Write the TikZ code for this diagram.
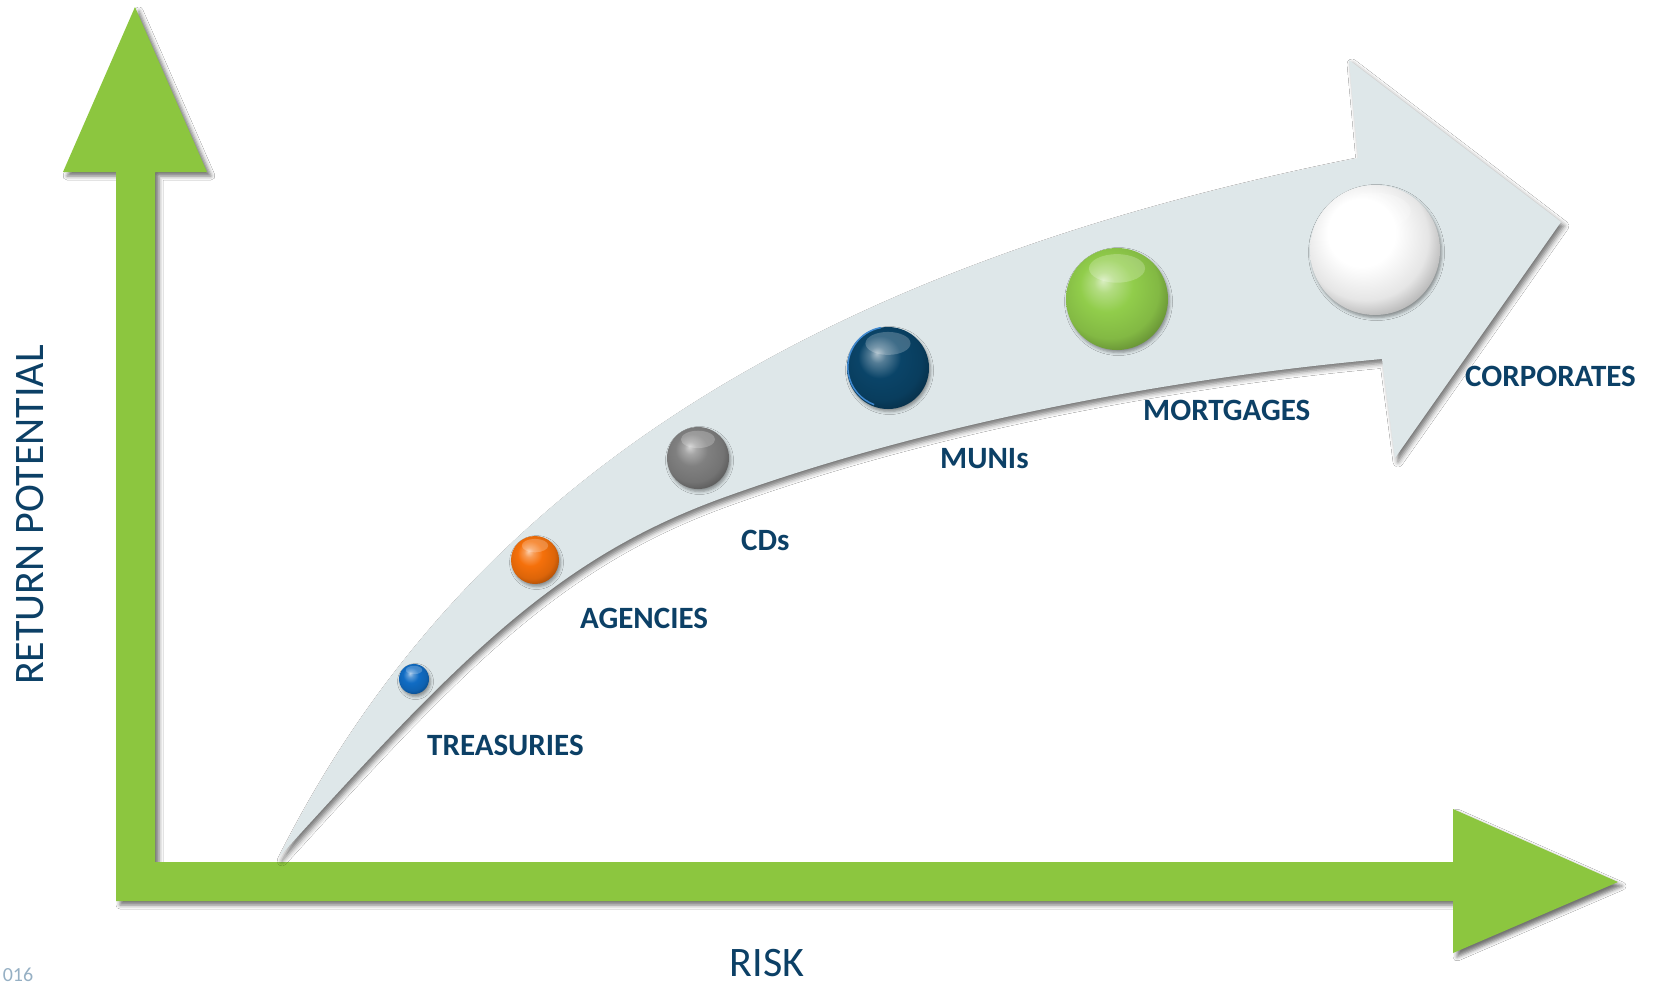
\documentclass[tikz,border=0pt]{standalone}
\usepackage{fontspec}
\setmainfont{Carlito}
\usetikzlibrary{shadows.blur,calc}

\definecolor{axisgreen}{RGB}{140,198,63}
\definecolor{bandgrey}{RGB}{222,231,233}
\definecolor{inkblue}{RGB}{12,64,102}
\definecolor{yearblue}{RGB}{150,176,196}
\definecolor{treasblue}{RGB}{16,108,196}
\definecolor{agencyorange}{RGB}{245,112,10}
\definecolor{cdgrey}{RGB}{128,128,128}
\definecolor{muninavy}{RGB}{10,68,104}
\definecolor{mortgreen}{RGB}{145,205,75}

% glossy button shading, lit from the upper left
\colorlet{gemc}{white}
\pgfdeclareradialshading[gemc]{gem}{\pgfpoint{-7bp}{9bp}}{%
  color(0bp)=(gemc!35!white);
  color(5bp)=(gemc!70!white);
  color(13bp)=(gemc);
  color(24bp)=(gemc!90!black);
  color(32bp)=(gemc!65!black);
  color(50bp)=(gemc!60!black)}

\begin{document}
\begin{tikzpicture}[x=1pt, y=-1pt,
  axisarrow/.style={fill=axisgreen,
    blur shadow={shadow xshift=4pt, shadow yshift=-4pt,
      shadow blur radius=4pt, shadow opacity=55}},
  bandarrow/.style={fill=bandgrey,
    blur shadow={shadow xshift=3pt, shadow yshift=-4pt,
      shadow blur radius=5pt, shadow opacity=55}},
  gem colour/.code={\colorlet{gemc}{#1}},
  gem/.style={circle, inner sep=0pt, outer sep=0pt, minimum size=#1,
    shading=gem,
    blur shadow={shadow xshift=1.5pt, shadow yshift=-2.5pt,
      shadow blur radius=3pt, shadow opacity=40},
    path picture={
      \fill[white, opacity=.22]
        let \p1=(path picture bounding box.north),
            \p2=(path picture bounding box.center),
            \n1={\y1-\y2} in
        ($(\p2)!0.6!(\p1)$) ellipse [x radius=0.55*\n1, y radius=0.28*\n1];
    }},
  lab/.style={font=\fontsize{31}{37}\selectfont\bfseries, text=inkblue,
    anchor=base west, inner sep=0pt},
  axislabel/.style={font=\fontsize{42}{50}\selectfont, text=inkblue,
    inner sep=0pt},
  yearlabel/.style={font=\fontsize{20}{24}\selectfont, text=yearblue,
    anchor=base west, inner sep=0pt}
]
\useasboundingbox (0,0) rectangle (1657,986);
\fill[white] (0,0) rectangle (1657,986);

% the two green axes as one L-shaped double arrow
\path[axisarrow]
  (135,7) -- (207,172) -- (155,172) -- (155,862) -- (1453,862)
  -- (1453,809) -- (1618,882) -- (1453,953) -- (1453,901)
  -- (116,901) -- (116,172) -- (63,172) -- cycle;

% curved arrow rising from the origin
\path[bandarrow]
  (279,857) .. controls (479,457) and (858,258) .. (1358,158)
  -- (1349,60) -- (1561,222) -- (1395,458) -- (1382,359)
  .. controls (1162,379) and (925,425) .. (725,497)
  .. controls (555,558) and (459,659) .. (279,857)
  -- cycle;

% axis titles
\node[axislabel, rotate=90, anchor=base] (yaxis) at (43,515) {RETURN POTENTIAL};
\node[axislabel, anchor=base] (xaxis) at (767,976) {RISK};
\node[yearlabel] (year) at (2.6,981) {016};

% instruments, from low to high risk
\node[gem=30pt,  gem colour=treasblue]    (treas) at (414,679) {};
\node[gem=48pt,  gem colour=agencyorange] (agen)  at (535,560) {};
\node[gem=62pt,  gem colour=cdgrey]       (cds)   at (698,458) {};
\node[gem=82pt,  gem colour=muninavy]     (munis) at (888,368) {};
\node[gem=102pt, gem colour=mortgreen]    (mort)  at (1117,299) {};
\node[gem=130pt, gem colour=white]        (corp)  at (1375,250) {};

% bright rim on the lower left of the navy button
\draw[treasblue!80!white, line width=1.5pt]
  (munis.100) arc[start angle=100, end angle=250, radius=40pt];

\node[lab] (treaslab) at (427,755)  {TREASURIES};
\node[lab] (agenlab)  at (580,628)  {AGENCIES};
\node[lab] (cdslab)   at (741,550)  {CDs};
\node[lab] (munilab)  at (940,468)  {MUNIs};
\node[lab] (mortlab)  at (1143,420) {MORTGAGES};
\node[lab] (corplab)  at (1465,386) {CORPORATES};
\end{tikzpicture}
\end{document}
